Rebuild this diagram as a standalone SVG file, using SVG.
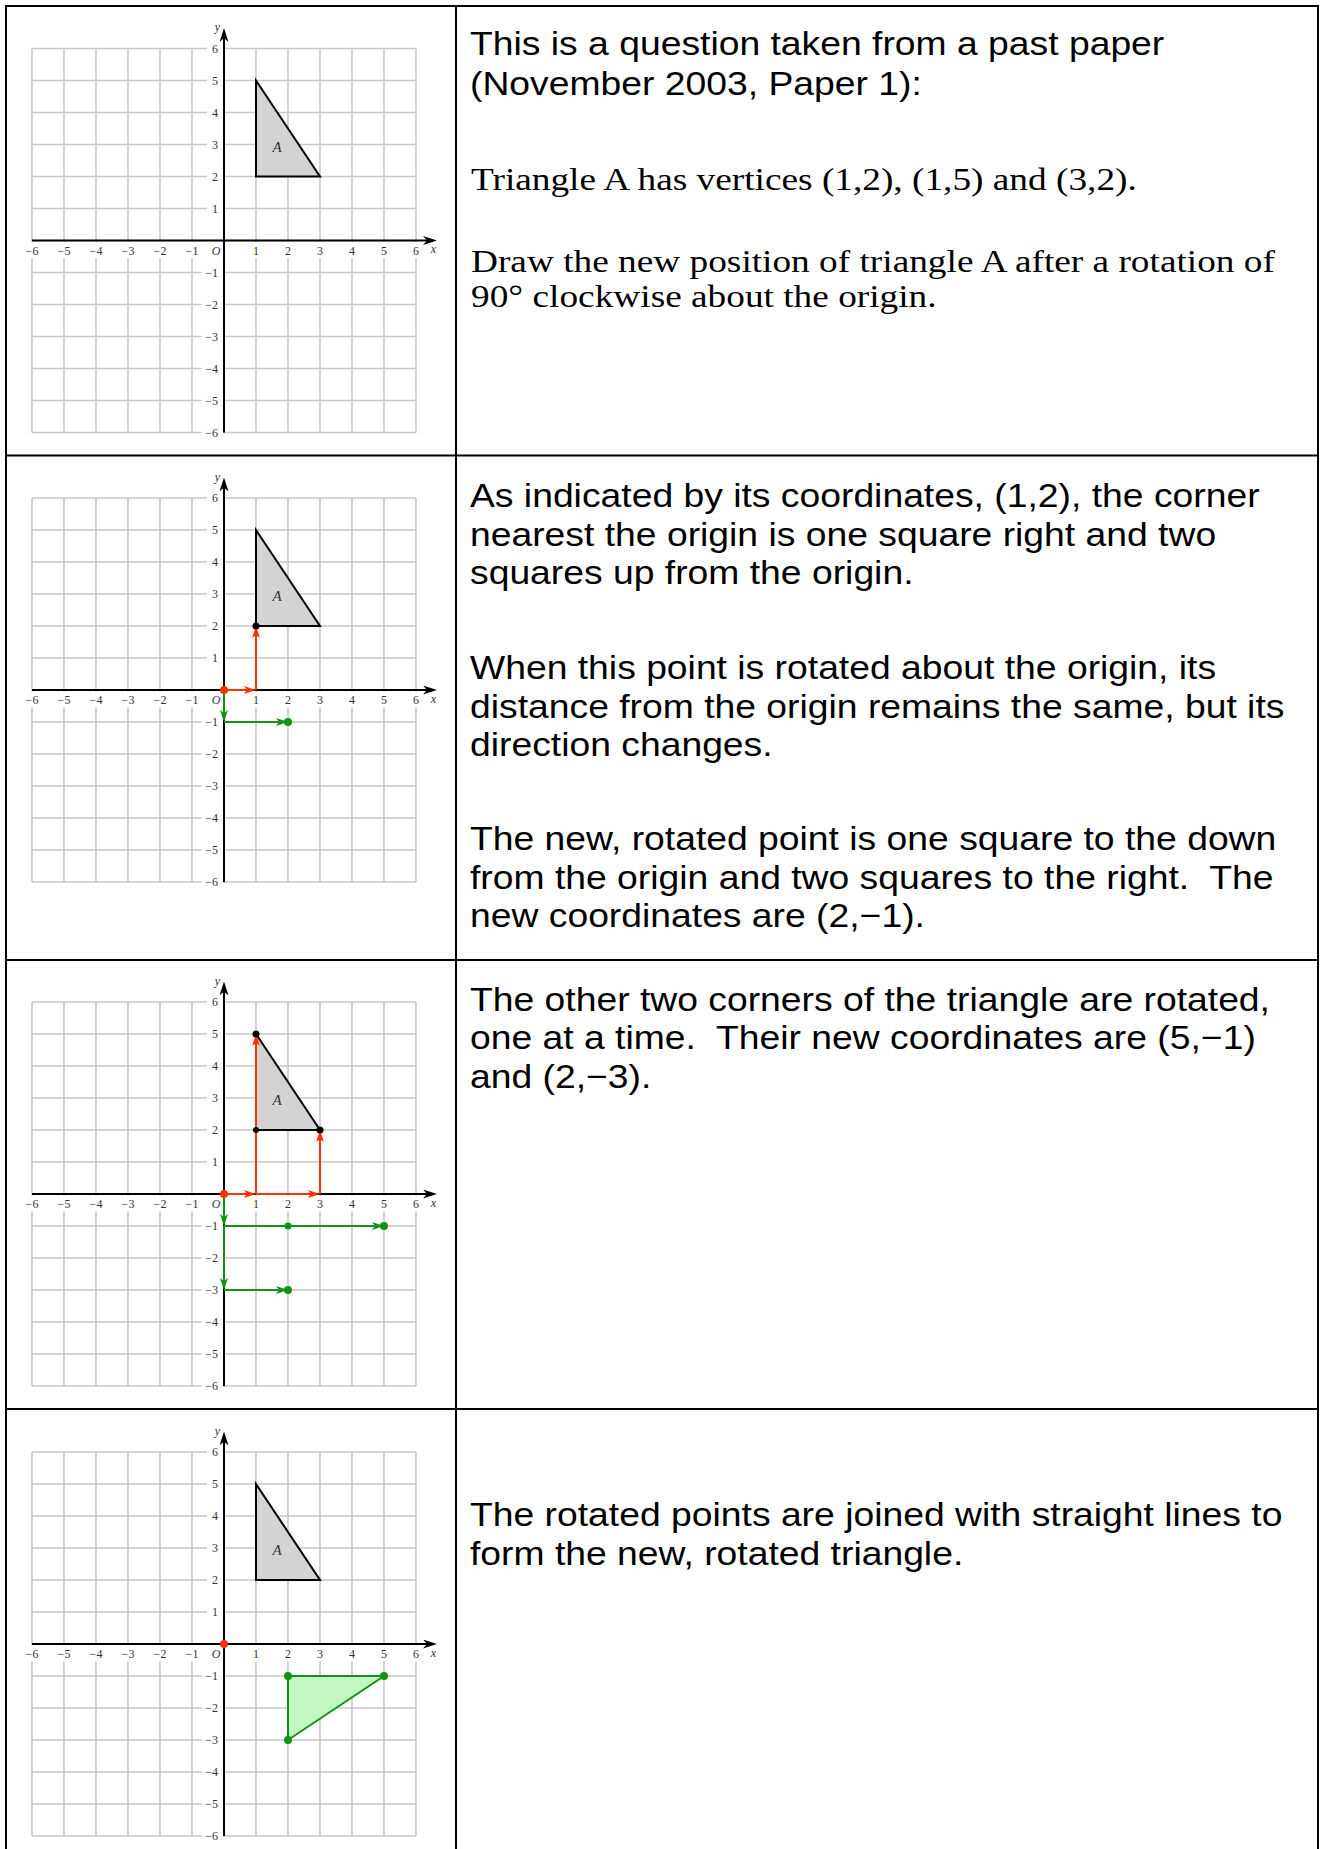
<svg xmlns="http://www.w3.org/2000/svg" xmlns:xlink="http://www.w3.org/1999/xlink" width="1321" height="1849" viewBox="0 0 1321 1849">
<style>
.sans{font-family:"Liberation Sans",Arial,sans-serif;font-size:33.6px;fill:#000}
.serif{font-family:"Liberation Serif","Times New Roman",serif;font-size:32px;fill:#000}
.lab text{font-family:"Liberation Serif","Times New Roman",serif;font-size:12px;fill:#333;text-anchor:middle}
.lab .yl{text-anchor:end}
.lab .it{font-style:italic}
.lab .big{font-size:15px}
.grid{stroke:#c8c8c8;stroke-width:1.6;fill:none}
.axis{stroke:#000;stroke-width:2;fill:none}
.triA{fill:#d3d3d3;stroke:#000;stroke-width:2;stroke-linejoin:miter}
.red{stroke:#ff3300;stroke-width:2;fill:none}
.grn{stroke:#139313;stroke-width:2;fill:none}
.border{stroke:#000;stroke-width:2;fill:none}
</style>
<defs>
<marker id="mK" viewBox="0 0 14 9" markerWidth="14" markerHeight="9" refX="8" refY="4.5" orient="auto" markerUnits="userSpaceOnUse"><path d="M0,0 L14,4.5 L0,9 L4,4.5Z" fill="#000"/></marker>
<marker id="mR" viewBox="0 0 12 8" markerWidth="12" markerHeight="8" refX="6" refY="4" orient="auto" markerUnits="userSpaceOnUse"><path d="M0,0 L12,4 L0,8 L3,4Z" fill="#ff3300"/></marker>
<marker id="mG" viewBox="0 0 12 8" markerWidth="12" markerHeight="8" refX="6" refY="4" orient="auto" markerUnits="userSpaceOnUse"><path d="M0,0 L12,4 L0,8 L3,4Z" fill="#139313"/></marker>
<g id="gridbase">
<path class="grid" d="M32 48.5V432.5M64 48.5V432.5M96 48.5V432.5M128 48.5V432.5M160 48.5V432.5M192 48.5V432.5M224 48.5V432.5M256 48.5V432.5M288 48.5V432.5M320 48.5V432.5M352 48.5V432.5M384 48.5V432.5M416 48.5V432.5M32 48.5H416M32 80.5H416M32 112.5H416M32 144.5H416M32 176.5H416M32 208.5H416M32 240.5H416M32 272.5H416M32 304.5H416M32 336.5H416M32 368.5H416M32 400.5H416M32 432.5H416"/>
<g fill="#fff">
<rect x="24" y="242" width="400" height="16"/>
<rect x="207" y="41.5" width="16" height="14"/>
<rect x="207" y="73.5" width="16" height="14"/>
<rect x="207" y="105.5" width="16" height="14"/>
<rect x="207" y="137.5" width="16" height="14"/>
<rect x="207" y="169.5" width="16" height="14"/>
<rect x="207" y="201.5" width="16" height="14"/>
<rect x="202" y="265.5" width="21" height="14"/>
<rect x="202" y="297.5" width="21" height="14"/>
<rect x="202" y="329.5" width="21" height="14"/>
<rect x="202" y="361.5" width="21" height="14"/>
<rect x="202" y="393.5" width="21" height="14"/>
<rect x="202" y="425.5" width="21" height="14"/>
</g>
<path class="axis" d="M224 432.5V34" marker-end="url(#mK)"/>
<path class="axis" d="M32 240.5H431" marker-end="url(#mK)"/>
</g>
</defs>

<g id="table-borders">
<path class="border" d="M6 5V1849M456 5V1849M1318 5V1849M5 6H1319M5 455.5H1319M5 960H1319M5 1409H1319"/>
</g>

<!-- Panel 1 -->
<g id="panel-1">
<g id="graph-1">
<use xlink:href="#gridbase" href="#gridbase"/>
<polygon class="triA" points="256,176.5 256,80.5 320,176.5"/>
<g class="lab">
<text x="32" y="254.5">−6</text><text x="64" y="254.5">−5</text><text x="96" y="254.5">−4</text><text x="128" y="254.5">−3</text><text x="160" y="254.5">−2</text><text x="192" y="254.5">−1</text>
<text class="it" x="216" y="254.5">O</text>
<text x="256" y="254.5">1</text><text x="288" y="254.5">2</text><text x="320" y="254.5">3</text><text x="352" y="254.5">4</text><text x="384" y="254.5">5</text><text x="416" y="254.5">6</text>
<text class="it" x="433.5" y="253">x</text>
<text class="yl" x="218" y="52.5">6</text><text class="yl" x="218" y="84.5">5</text><text class="yl" x="218" y="116.5">4</text><text class="yl" x="218" y="148.5">3</text><text class="yl" x="218" y="180.5">2</text><text class="yl" x="218" y="212.5">1</text>
<text class="yl" x="218" y="276.5">−1</text><text class="yl" x="218" y="308.5">−2</text><text class="yl" x="218" y="340.5">−3</text><text class="yl" x="218" y="372.5">−4</text><text class="yl" x="218" y="404.5">−5</text><text class="yl" x="218" y="436.5">−6</text>
<text class="it" x="217.5" y="31">y</text>
<text class="it big" x="277" y="151.5">A</text>
</g>
</g>
<g id="text-1">
<g transform="matrix(1.11 0 0 1 470 0)">
<text class="sans" x="0" y="55.5">This is a question taken from a past paper</text>
<text class="sans" x="0" y="95">(November 2003, Paper 1):</text>
</g>
<g transform="matrix(1.166 0 0 1 471 0)">
<text class="serif" x="0" y="190.5">Triangle A has vertices (1,2), (1,5) and (3,2).</text>
<text class="serif" x="0" y="272">Draw the new position of triangle A after a rotation of</text>
<text class="serif" x="0" y="307.5">90° clockwise about the origin.</text>
</g>
</g>
</g>

<!-- Panel 2 -->
<g id="panel-2">
<g id="graph-2" transform="translate(0,449.5)">
<use xlink:href="#gridbase" href="#gridbase"/>
<polygon class="triA" points="256,176.5 256,80.5 320,176.5"/>
<g class="lab">
<text x="32" y="254.5">−6</text><text x="64" y="254.5">−5</text><text x="96" y="254.5">−4</text><text x="128" y="254.5">−3</text><text x="160" y="254.5">−2</text><text x="192" y="254.5">−1</text>
<text class="it" x="216" y="254.5">O</text>
<text x="256" y="254.5">1</text><text x="288" y="254.5">2</text><text x="320" y="254.5">3</text><text x="352" y="254.5">4</text><text x="384" y="254.5">5</text><text x="416" y="254.5">6</text>
<text class="it" x="433.5" y="253">x</text>
<text class="yl" x="218" y="52.5">6</text><text class="yl" x="218" y="84.5">5</text><text class="yl" x="218" y="116.5">4</text><text class="yl" x="218" y="148.5">3</text><text class="yl" x="218" y="180.5">2</text><text class="yl" x="218" y="212.5">1</text>
<text class="yl" x="218" y="276.5">−1</text><text class="yl" x="218" y="308.5">−2</text><text class="yl" x="218" y="340.5">−3</text><text class="yl" x="218" y="372.5">−4</text><text class="yl" x="218" y="404.5">−5</text><text class="yl" x="218" y="436.5">−6</text>
<text class="it" x="217.5" y="31">y</text>
<text class="it big" x="277" y="151.5">A</text>
</g>
<g id="arrows-2">
<path class="red" d="M224 240.5H250" marker-end="url(#mR)"/>
<path class="red" d="M256 240.5V182.5" marker-end="url(#mR)"/>
<path class="grn" d="M224 240.5V266.5" marker-end="url(#mG)"/>
<path class="grn" d="M224 272.5H282" marker-end="url(#mG)"/>
<circle cx="256" cy="176.5" r="3.5" fill="#000"/>
<circle cx="288" cy="272.5" r="4" fill="#139313"/>
<circle cx="224" cy="240.5" r="4" fill="#ff3300"/>
</g>
</g>
<g id="text-2" transform="matrix(1.11 0 0 1 470 0)">
<text class="sans" x="0" y="507.5">As indicated by its coordinates, (1,2), the corner</text>
<text class="sans" x="0" y="546">nearest the origin is one square right and two</text>
<text class="sans" x="0" y="584.5">squares up from the origin.</text>
<text class="sans" x="0" y="679.5">When this point is rotated about the origin, its</text>
<text class="sans" x="0" y="718">distance from the origin remains the same, but its</text>
<text class="sans" x="0" y="756.5">direction changes.</text>
<text class="sans" x="0" y="850.5">The new, rotated point is one square to the down</text>
<text class="sans" x="0" y="889" xml:space="preserve" style="white-space:pre">from the origin and two squares to the right.  The</text>
<text class="sans" x="0" y="927.5">new coordinates are (2,−1).</text>
</g>
</g>

<!-- Panel 3 -->
<g id="panel-3">
<g id="graph-3" transform="translate(0,953.5)">
<use xlink:href="#gridbase" href="#gridbase"/>
<polygon class="triA" points="256,176.5 256,80.5 320,176.5" stroke-width="1.6"/>
<path d="M256 176.5H320" stroke="#000" stroke-width="2"/>
<g class="lab">
<text x="32" y="254.5">−6</text><text x="64" y="254.5">−5</text><text x="96" y="254.5">−4</text><text x="128" y="254.5">−3</text><text x="160" y="254.5">−2</text><text x="192" y="254.5">−1</text>
<text class="it" x="216" y="254.5">O</text>
<text x="256" y="254.5">1</text><text x="288" y="254.5">2</text><text x="320" y="254.5">3</text><text x="352" y="254.5">4</text><text x="384" y="254.5">5</text><text x="416" y="254.5">6</text>
<text class="it" x="433.5" y="253">x</text>
<text class="yl" x="218" y="52.5">6</text><text class="yl" x="218" y="84.5">5</text><text class="yl" x="218" y="116.5">4</text><text class="yl" x="218" y="148.5">3</text><text class="yl" x="218" y="180.5">2</text><text class="yl" x="218" y="212.5">1</text>
<text class="yl" x="218" y="276.5">−1</text><text class="yl" x="218" y="308.5">−2</text><text class="yl" x="218" y="340.5">−3</text><text class="yl" x="218" y="372.5">−4</text><text class="yl" x="218" y="404.5">−5</text><text class="yl" x="218" y="436.5">−6</text>
<text class="it" x="217.5" y="31">y</text>
<text class="it big" x="277" y="151.5">A</text>
</g>
<g id="arrows-3">
<path class="red" d="M224 240.5H250" marker-end="url(#mR)"/>
<path class="red" d="M256 240.5H314" marker-end="url(#mR)"/>
<path class="red" d="M256 240.5V86.5" marker-end="url(#mR)"/>
<path class="red" d="M320 240.5V182.5" marker-end="url(#mR)"/>
<path class="grn" d="M224 240.5V266.5" marker-end="url(#mG)"/>
<path class="grn" d="M224 272.5V330.5" marker-end="url(#mG)"/>
<path class="grn" d="M224 272.5H378" marker-end="url(#mG)"/>
<path class="grn" d="M224 336.5H282" marker-end="url(#mG)" stroke-width="1.5"/>
<circle cx="256" cy="176.5" r="3" fill="#000"/>
<circle cx="256" cy="80.5" r="3.5" fill="#000"/>
<circle cx="320" cy="176.5" r="3.5" fill="#000"/>
<circle cx="288" cy="272.5" r="3.5" fill="#139313"/>
<circle cx="384" cy="272.5" r="4" fill="#139313"/>
<circle cx="288" cy="336.5" r="4" fill="#139313"/>
<circle cx="224" cy="240.5" r="4" fill="#ff3300"/>
</g>
</g>
<g id="text-3" transform="matrix(1.11 0 0 1 470 0)">
<text class="sans" x="0" y="1011">The other two corners of the triangle are rotated,</text>
<text class="sans" x="0" y="1049.5" xml:space="preserve" style="white-space:pre">one at a time.  Their new coordinates are (5,−1)</text>
<text class="sans" x="0" y="1088">and (2,−3).</text>
</g>
</g>

<!-- Panel 4 -->
<g id="panel-4">
<g id="graph-4" transform="translate(0,1403.5)">
<use xlink:href="#gridbase" href="#gridbase"/>
<polygon class="triA" points="256,176.5 256,80.5 320,176.5"/>
<polygon points="288,272.5 384,272.5 288,336.5" fill="#c2f7c2" stroke="#139313" stroke-width="2"/>
<g class="lab">
<text x="32" y="254.5">−6</text><text x="64" y="254.5">−5</text><text x="96" y="254.5">−4</text><text x="128" y="254.5">−3</text><text x="160" y="254.5">−2</text><text x="192" y="254.5">−1</text>
<text class="it" x="216" y="254.5">O</text>
<text x="256" y="254.5">1</text><text x="288" y="254.5">2</text><text x="320" y="254.5">3</text><text x="352" y="254.5">4</text><text x="384" y="254.5">5</text><text x="416" y="254.5">6</text>
<text class="it" x="433.5" y="253">x</text>
<text class="yl" x="218" y="52.5">6</text><text class="yl" x="218" y="84.5">5</text><text class="yl" x="218" y="116.5">4</text><text class="yl" x="218" y="148.5">3</text><text class="yl" x="218" y="180.5">2</text><text class="yl" x="218" y="212.5">1</text>
<text class="yl" x="218" y="276.5">−1</text><text class="yl" x="218" y="308.5">−2</text><text class="yl" x="218" y="340.5">−3</text><text class="yl" x="218" y="372.5">−4</text><text class="yl" x="218" y="404.5">−5</text><text class="yl" x="218" y="436.5">−6</text>
<text class="it" x="217.5" y="31">y</text>
<text class="it big" x="277" y="151.5">A</text>
</g>
<g id="points-4">
<circle cx="288" cy="272.5" r="4" fill="#139313"/>
<circle cx="384" cy="272.5" r="4" fill="#139313"/>
<circle cx="288" cy="336.5" r="4" fill="#139313"/>
<circle cx="224" cy="240.5" r="4" fill="#ff3300"/>
</g>
</g>
<g id="text-4" transform="matrix(1.11 0 0 1 470 0)">
<text class="sans" x="0" y="1526">The rotated points are joined with straight lines to</text>
<text class="sans" x="0" y="1565">form the new, rotated triangle.</text>
</g>
</g>
</svg>
